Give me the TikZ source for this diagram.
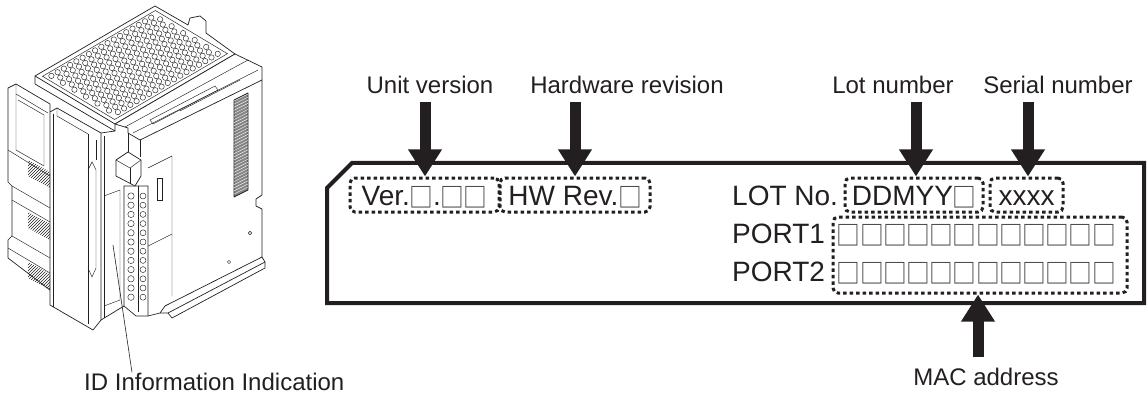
\documentclass[tikz,border=0pt]{standalone}
\usepackage{fontspec}
\setmainfont{Liberation Sans}
\newfontfamily\sqfont{Noto Sans CJK JP}
\usetikzlibrary{arrows.meta,patterns}
\definecolor{ink}{HTML}{231F20}
\newcommand\sqbox{\makebox[23.2pt][c]{\raisebox{-2.5pt}{\scalebox{0.88}[1]{\sqfont\fontsize{27}{27}\selectfont\color{ink!85}□}}}}
\newcommand\sqrow{\sqbox\sqbox\sqbox\sqbox\sqbox\sqbox\sqbox\sqbox\sqbox\sqbox\sqbox\sqbox}
\begin{document}
\begin{tikzpicture}[x=1pt,y=-1pt,
  lbl/.style={font=\fontsize{24}{28}\selectfont, inner sep=0pt, text=ink},
  mainlbl/.style={font=\fontsize{28}{32}\selectfont, inner sep=0pt, text=ink},
  dotbox/.style={draw=ink, line width=3pt, dash pattern=on 3.5pt off 3pt, rounded corners=5pt, inner sep=0pt, font=\fontsize{28}{32}\selectfont, text=ink, text height=20pt, text depth=0pt},
  bigarrow/.style={draw=ink, line width=11pt, -{Triangle[length=27pt,width=32pt]}},
  dev/.style={draw=ink, line width=0.7pt, line join=round},
  thinl/.style={draw=ink, line width=0.45pt},
  pointer/.style={draw=ink, line width=0.6pt},
]
\useasboundingbox (0,0) rectangle (1147,398);

% ================= device =================
% lid
\draw[dev, fill=white] (35,76) -- (155,6) -- (188,25) -- (190,18) -- (200,16) -- (206,21) -- (206,33) -- (235,54) -- (115,124) -- cycle;
\draw[thinl] ({35+120*0.03+80*0.05},{76-70*0.03+48*0.05}) -- ({35+120*0.97+80*0.05},{76-70*0.97+48*0.05}) -- ({35+120*0.97+80*0.95},{76-70*0.97+48*0.95}) -- ({35+120*0.03+80*0.95},{76-70*0.03+48*0.95}) -- cycle;
\foreach \i in {0,...,16}{
  \foreach \j in {0,...,11}{
    \pgfmathsetmacro\aa{0.07+0.052*\i+0.026*mod(\j,2)}
    \pgfmathsetmacro\bb{0.1+0.072*\j}
    \draw[thinl] ({35+120*\aa+80*\bb},{76-70*\aa+48*\bb}) circle[radius=2.7pt];
  }
}
% lid thickness
\draw[dev] (35,76) -- (35,84) -- (115,131) -- (115,124);
% top rail block
\draw[dev, fill=white] (115,124) -- (235,54) -- (262,67) -- (262,80) -- (140,140) -- (128,133) -- (128,128) -- cycle;
\draw[thinl] (125,127) -- (248,60);
\draw[thinl] (133,133) -- (258,70);
\draw[thinl] (150,120) -- (215,86) -- (218,90) -- (153,124) -- cycle;
\draw[thinl] (180,111) -- (240,80);
% right face
\draw[dev] (262,80) -- (262,195) -- (256,199) -- (256,206) -- (262,209) -- (262,257);
\draw[dev, fill=ink!55] (234,100) -- (248,93) -- (248,190) -- (234,197) -- cycle;
\foreach \k in {0,...,30}{ \draw[white, line width=0.4pt] (234,{101+3.1*\k}) -- (248,{94+3.1*\k}); }
\draw[thinl] (250,233) circle[radius=1.8pt];
\draw[thinl] (229,262) circle[radius=1.6pt];
\draw[thinl] (148,168) -- (172,156) -- (172,296);
\draw[thinl] (157,178) rectangle (162,200);
\draw[thinl] (148,246) -- (172,234);
% bottom rail
\draw[dev] (262,257) -- (165,306) -- (160,313) -- (148,316);
\draw[dev] (262,257) -- (265,262) -- (168,313) -- (160,313);
\draw[dev] (265,262) -- (265,268) -- (172,318) -- (168,313);
% terminal block
\draw[dev, fill=white] (124,186) -- (148,186) -- (148,316) -- (136,316) -- (124,306) -- cycle;
\draw[thinl] (138,186) -- (138,312);
\foreach \r in {0,...,11}{
  \draw[thinl] (131,{196+9.2*\r}) circle[radius=3.2pt];
  \draw[thinl] (143,{196+9.2*\r}) circle[radius=3.0pt];
}
\draw[dev, fill=white] (116,160) -- (128,152) -- (141,160) -- (141,176) -- (135,186) -- (116,176) -- cycle;
\draw[thinl] (116,160) -- (130,168) -- (141,160);
\draw[thinl] (130,168) -- (130,184);
\draw[dev] (128,133) -- (128,152);
\draw[dev] (140,140) -- (140,157);
% cover
\draw[dev, fill=white] (50,112) -- (57,108) -- (101,133) -- (101,320) -- (93,330) -- (50,305) -- cycle;
\draw[thinl] (53,114) -- (53,307);
\draw[thinl] (57,108) -- (57,116) -- (88,134);
\draw[thinl] (88,134) -- (88,324);
\draw[thinl] (88,170) -- (92,162) -- (96,170) -- (96,268) -- (92,277) -- (88,268);
\draw[thinl] (96,140) -- (96,160);
% front body between cover and terminal block
\draw[dev] (101,133) -- (115,131);
\draw[dev] (101,320) -- (124,306);
\draw[thinl] (104,136) -- (104,318);
\draw[thinl] (104,196) -- (120,190) -- (120,300) -- (104,306);
\coordinate (idpt) at (113,245);
% left-side connectors
\draw[dev] (8,88) -- (16,84) -- (50,104) -- (50,112);
\draw[dev] (8,88) -- (8,182) -- (12,186) -- (12,236) -- (8,240) -- (8,258) -- (50,290);
\draw[thinl] (16,84) -- (16,94) -- (48,113);
\draw[thinl] (16,94) -- (16,150) -- (44,166);
\draw[thinl] (18,100) -- (44,115) -- (44,166);
\draw[thinl] (8,150) -- (50,176);
\draw[thinl] (12,186) -- (50,208);
\draw[thinl] (12,200) -- (50,222);
\draw[thinl] (12,236) -- (50,258);
\draw[thinl] (8,248) -- (50,273);
\fill[pattern=north east lines, pattern color=ink] (28,160) -- (50,172) -- (50,188) -- (28,176) -- cycle;
\fill[pattern=north east lines, pattern color=ink] (28,212) -- (50,224) -- (50,240) -- (28,228) -- cycle;
\fill[pattern=north east lines, pattern color=ink] (28,262) -- (50,274) -- (50,290) -- (28,278) -- cycle;

% ================= label plate =================
\draw[ink, line width=4pt, line join=miter] (352,163) -- (1144,163) -- (1144,303) -- (327,303) -- (327,188) -- cycle;

\node[dotbox, minimum width=149pt, minimum height=34pt] (verbox) at (424.5,195) {Ver.\sqbox.\sqbox\sqbox};
\node[dotbox, minimum width=150pt, minimum height=34pt] (hwbox) at (575,195) {HW Rev.\sqbox};
\node[mainlbl, anchor=base west] (lotno) at (732,205) {LOT No.};
\node[dotbox, minimum width=138pt, minimum height=34pt] (lotbox) at (914,195) {DDMYY\sqbox};
\node[dotbox, minimum width=73pt, minimum height=34pt] (serbox) at (1026.5,195) {xxxx};
\node[mainlbl, anchor=base west] (port1) at (732,243) {PORT1};
\node[mainlbl, anchor=base west] (port2) at (732,281) {PORT2};
\node[mainlbl, anchor=base west] (mac1) at (837,243) {\sqrow};
\node[mainlbl, anchor=base west] (mac2) at (837,281) {\sqrow};
\node[dotbox, minimum width=294pt, minimum height=76pt] (macbox) at (980,255) {};

% ================= labels and arrows =================
\node[lbl, anchor=base] (unitlbl) at (430,94) {Unit version};
\node[lbl, anchor=base] (hwlbl) at (627,94) {Hardware revision};
\node[lbl, anchor=base] (lotlbl) at (893,94) {Lot number};
\node[lbl, anchor=base] (serlbl) at (1058,94) {Serial number};
\node[lbl, anchor=base] (maclbl) at (986,385) {MAC address};
\node[lbl, anchor=base west] (idlbl) at (84,390) {ID Information Indication};

\draw[bigarrow, shorten <=8pt] (425,0 |- unitlbl.south) -- (425,0 |- verbox.north);
\draw[bigarrow, shorten <=8pt] (575,0 |- hwlbl.south) -- (575,0 |- hwbox.north);
\draw[bigarrow, shorten <=8pt] (916,0 |- lotlbl.south) -- (916,0 |- lotbox.north);
\draw[bigarrow, shorten <=8pt] (1028,0 |- serlbl.south) -- (1028,0 |- serbox.north);
\draw[bigarrow, shorten <=10pt] (978,0 |- maclbl.north) -- (978,0 |- macbox.south);
\draw[pointer] (idpt) -- (132,0 |- idlbl.north);
\end{tikzpicture}
\end{document}
